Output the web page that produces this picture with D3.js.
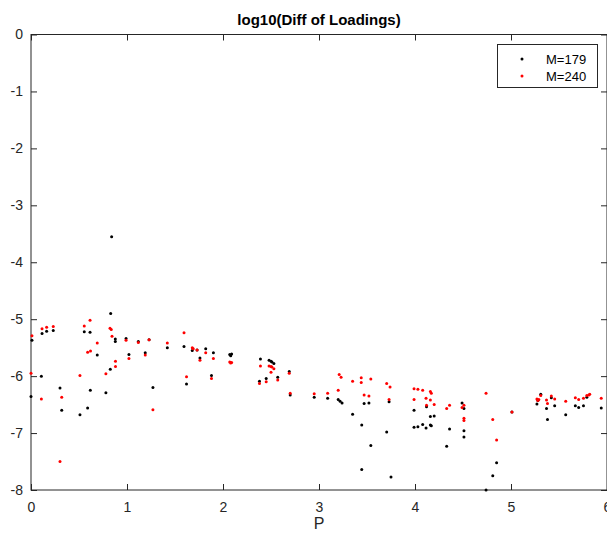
<!DOCTYPE html>
<html>
<head>
<meta charset="utf-8">
<script src="https://cdn.jsdelivr.net/npm/d3@7"></script>
<style>
  html, body { margin: 0; padding: 0; background: #fff; }
  svg { display: block; font-family: "Liberation Sans", Arial, Helvetica, sans-serif; }
</style>
</head>
<body>
<svg id="chart" width="607" height="536"></svg>
<script>
// Series M=179 (black): P and log10 of the loading difference
const p179 = [0.84,0.83,0.01,0.115,0.163,0.232,0.555,0.615,0.69,0.878,0.878,0.826,0.99,1.02,1.118,1.19,1.23,1.42,1.594,1.68,1.73,1.76,1.82,1.90,1.88,1.62,0.108,0.0,0.302,0.32,0.51,0.618,0.59,0.78,1.27,2.07,2.09,2.08,2.39,2.38,2.45,2.48,2.50,2.51,2.53,2.57,2.69,2.70,2.95,3.09,3.20,3.22,3.24,3.35,3.47,3.52,3.445,3.54,3.445,3.73,3.705,3.75,3.99,3.99,4.03,4.08,4.12,4.115,4.16,4.20,4.16,4.17,4.33,4.36,4.49,4.51,4.51,4.51,4.74,4.81,4.85,5.01,5.27,5.28,5.31,5.37,5.38,5.42,5.455,5.57,5.67,5.705,5.755,5.79,5.94];
const v179 = [-3.55,-4.90,-5.37,-5.25,-5.21,-5.20,-5.22,-5.23,-5.63,-5.35,-5.39,-5.88,-5.34,-5.62,-5.39,-5.59,-5.36,-5.50,-5.48,-5.55,-5.54,-5.68,-5.52,-5.59,-5.99,-6.14,-6.00,-6.36,-6.21,-6.60,-6.68,-6.25,-6.56,-6.29,-6.20,-5.62,-5.61,-5.64,-5.70,-6.09,-6.04,-5.72,-5.74,-5.75,-5.78,-6.02,-5.92,-6.33,-6.37,-6.39,-6.41,-6.44,-6.47,-6.67,-6.48,-6.47,-6.86,-7.22,-7.64,-6.45,-6.98,-7.77,-6.60,-6.90,-6.89,-6.85,-6.54,-6.91,-6.71,-6.70,-6.86,-6.87,-7.23,-6.93,-6.47,-6.57,-6.96,-7.07,-8.0,-7.75,-7.52,-6.63,-6.49,-6.43,-6.32,-6.57,-6.76,-6.38,-6.52,-6.68,-6.52,-6.55,-6.52,-6.37,-6.56];

// Series M=240 (red)
const p240 = [0.01,0.115,0.163,0.232,0.555,0.615,0.69,0.59,0.62,0.823,0.836,0.844,0.88,0.88,0.99,1.02,1.118,1.19,1.23,1.42,1.594,1.68,1.69,1.73,1.76,1.82,1.90,0.78,1.88,1.62,0.0,0.108,0.32,0.302,0.51,1.27,2.07,2.09,2.08,2.39,2.38,2.45,2.48,2.50,2.51,2.53,2.50,2.57,2.69,2.70,2.95,3.09,3.20,3.21,3.23,3.35,3.44,3.44,3.47,3.52,3.54,3.705,3.74,3.73,3.99,3.99,4.03,4.08,4.115,4.12,4.16,4.17,4.16,4.20,4.33,4.36,4.51,4.49,4.51,4.51,4.74,4.81,4.85,5.01,5.27,5.28,5.29,5.31,5.37,5.38,5.42,5.455,5.57,5.67,5.705,5.755,5.79,5.81,5.82,5.94];
const v240 = [-5.29,-5.17,-5.14,-5.13,-5.12,-5.02,-5.42,-5.58,-5.56,-5.16,-5.18,-5.30,-5.74,-5.83,-5.37,-5.69,-5.41,-5.63,-5.36,-5.42,-5.24,-5.50,-5.52,-5.54,-5.72,-5.59,-5.69,-5.96,-6.04,-6.01,-5.95,-6.40,-6.37,-7.50,-5.99,-6.59,-5.75,-5.76,-5.77,-5.82,-6.13,-6.10,-5.82,-5.83,-5.84,-5.87,-5.93,-6.07,-5.95,-6.30,-6.31,-6.30,-6.25,-5.97,-6.02,-6.09,-6.03,-6.11,-6.33,-6.35,-6.05,-6.13,-6.19,-6.41,-6.22,-6.41,-6.23,-6.25,-6.39,-6.51,-6.27,-6.30,-6.42,-6.50,-6.57,-6.51,-6.51,-6.55,-6.74,-6.78,-6.30,-6.76,-7.12,-6.63,-6.40,-6.43,-6.41,-6.34,-6.42,-6.48,-6.35,-6.40,-6.44,-6.38,-6.41,-6.39,-6.34,-6.33,-6.32,-6.39];

const xTicks = [0, 1, 2, 3, 4, 5, 6];
const yTicks = [0, -1, -2, -3, -4, -5, -6, -7, -8];
const seriesNames = ["M=179", "M=240"];
const seriesColors = ["#000000", "#ff0000"];

const svg = d3.select("#chart");
const plotLeft = 31, plotRight = 607, plotTop = 34.5, plotBottom = 490;
const axisColor = "#262626";
const plainNumber = d => String(d);   // hyphen-minus, as in the original figure

const x = d3.scaleLinear().domain([0, 6]).range([plotLeft, plotRight]);
const y = d3.scaleLinear().domain([-8, 0]).range([plotBottom, plotTop]);

// Box around the plot area
svg.append("rect")
  .attr("x", plotLeft).attr("y", plotTop)
  .attr("width", plotRight - plotLeft).attr("height", plotBottom - plotTop)
  .attr("fill", "none").attr("stroke", axisColor).attr("stroke-width", 1);

function styleAxis(g, showLabels) {
  g.select(".domain").remove();
  g.selectAll(".tick line").attr("stroke", axisColor);
  g.selectAll(".tick text")
    .attr("fill", axisColor)
    .attr("font-size", 14)
    .style("display", showLabels ? null : "none");
}

// Bottom axis, ticks pointing inward
svg.append("g")
  .attr("transform", `translate(0,${plotBottom})`)
  .call(d3.axisBottom(x).tickValues(xTicks).tickFormat(plainNumber).tickSize(-6).tickPadding(12))
  .call(g => styleAxis(g, true));

// Top axis ticks
svg.append("g")
  .attr("transform", `translate(0,${plotTop})`)
  .call(d3.axisTop(x).tickValues(xTicks).tickSize(-6))
  .call(g => styleAxis(g, false));

// Left axis
svg.append("g")
  .attr("transform", `translate(${plotLeft},0)`)
  .call(d3.axisLeft(y).tickValues(yTicks).tickFormat(plainNumber).tickSize(-6).tickPadding(8))
  .call(g => styleAxis(g, true));

// Right axis ticks
svg.append("g")
  .attr("transform", `translate(${plotRight},0)`)
  .call(d3.axisRight(y).tickValues(yTicks).tickSize(-6))
  .call(g => styleAxis(g, false));

// Points
const series = [
  { p: p179, v: v179, color: seriesColors[0] },
  { p: p240, v: v240, color: seriesColors[1] }
];
series.forEach(s => {
  svg.append("g").selectAll("circle")
    .data(d3.range(s.p.length))
    .join("circle")
    .attr("cx", i => x(s.p[i]))
    .attr("cy", i => y(s.v[i]))
    .attr("r", 1.5)
    .attr("fill", s.color);
});

// Title and axis label
svg.append("text")
  .attr("x", (plotLeft + plotRight) / 2).attr("y", 25)
  .attr("text-anchor", "middle")
  .attr("font-size", 15).attr("font-weight", "bold")
  .attr("fill", "#000")
  .text("log10(Diff of Loadings)");

svg.append("text")
  .attr("x", (plotLeft + plotRight) / 2).attr("y", 529)
  .attr("text-anchor", "middle")
  .attr("font-size", 16)
  .attr("fill", axisColor)
  .text("P");

// Legend
const lg = svg.append("g");
lg.append("rect")
  .attr("x", 497.5).attr("y", 44.5).attr("width", 100).attr("height", 43)
  .attr("fill", "#fff").attr("stroke", axisColor).attr("stroke-width", 1);
seriesNames.forEach((name, i) => {
  const cy = 59 + i * 17;
  lg.append("circle").attr("cx", 522).attr("cy", cy).attr("r", 1.5).attr("fill", seriesColors[i]);
  lg.append("text")
    .attr("x", 546).attr("y", cy + 5)
    .attr("font-size", 13).attr("fill", "#000")
    .text(name);
});
</script>
</body>
</html>
